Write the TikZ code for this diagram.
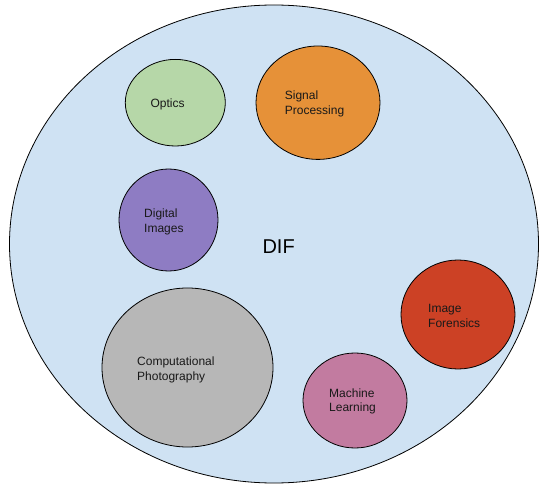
\documentclass[tikz,border=0pt]{standalone}
\usepackage{fontspec}
\setmainfont{Liberation Sans}
\usetikzlibrary{shapes.geometric}

\definecolor{fieldblue}{HTML}{CFE2F3}
\definecolor{opticsgreen}{HTML}{B6D7A8}
\definecolor{signalorange}{HTML}{E69138}
\definecolor{digitalpurple}{HTML}{8E7CC3}
\definecolor{photogray}{HTML}{B7B7B7}
\definecolor{forensicsred}{HTML}{CC4125}
\definecolor{learningpink}{HTML}{C27BA0}

\tikzset{
  area/.style n args={3}{ellipse, draw=black, line width=0.8pt, inner sep=0pt,
    fill=#1, minimum width=#2, minimum height=#3},
  % positioned by the baseline of the last line
  areatext/.style={anchor=base west, inner sep=0pt, align=left,
    font=\fontsize{12}{14.5}\selectfont, text=black!90},
}

\begin{document}
\begin{tikzpicture}[x=1pt, y=-1pt]
  \useasboundingbox (0,0) rectangle (539,484);

  % the whole field
  \node[area={fieldblue}{529pt}{478pt}] (dif) at (274,244) {};
  \node[anchor=base west, inner sep=0pt, font=\fontsize{20}{24}\selectfont] (diflabel) at (262.3,253.3) {DIF};

  % contributing areas
  \node[area={opticsgreen}{100pt}{86.6pt}]  (optics)    at (175.3,102.7) {};
  \node[area={signalorange}{124pt}{113.4pt}] (signal)   at (318,102.7) {};
  \node[area={digitalpurple}{99pt}{102pt}]  (digital)   at (168.5,220) {};
  \node[area={photogray}{171pt}{159pt}]     (photo)     at (187.5,367.5) {};
  \node[area={forensicsred}{114pt}{109pt}]  (forensics) at (458,314.5) {};
  \node[area={learningpink}{104pt}{95pt}]   (learning)  at (355,400.5) {};

  % area names
  \node[areatext] (opticslabel)    at (150.3,107.5) {Optics};
  \node[areatext] (signallabel)    at (284.7,114.3) {Signal\\Processing};
  \node[areatext] (digitallabel)   at (144,232.3)   {Digital\\Images};
  \node[areatext] (photolabel)     at (137,380.5)   {Computational\\Photography};
  \node[areatext] (forensicslabel) at (428,327)     {Image\\Forensics};
  \node[areatext] (learninglabel)  at (329,411.5)   {Machine\\Learning};
\end{tikzpicture}
\end{document}
